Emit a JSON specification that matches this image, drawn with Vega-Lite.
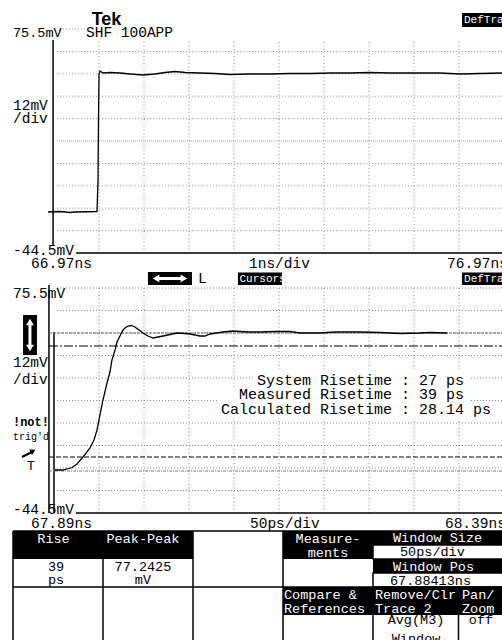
{
"$schema":"https://vega.github.io/schema/vega-lite/v6.json",
"width":502,"height":640,"padding":0,"autosize":{"type":"none"},
"background":"white",
"config":{"view":{"stroke":null},"text":{"font":"Liberation Mono","baseline":"middle"}},
"resolve":{"scale":{"x":"independent","y":"independent"}},
"layer":[
{
"encoding":{
 "x":{"field":"t","type":"quantitative","scale":{"domain":[65.77,76.9256],"nice":false,"zero":false},"axis":null},
 "y":{"field":"v","type":"quantitative","scale":{"domain":[-251.82,91.036],"nice":false,"zero":false},"axis":null}
},
"layer":[
 {"data":{"values":[{"t":67.04,"t2":76.93,"v":63.5},{"t":67.04,"t2":76.93,"v":51.5},{"t":67.04,"t2":76.93,"v":39.5},{"t":67.04,"t2":76.93,"v":27.5},{"t":67.04,"t2":76.93,"v":3.5},{"t":67.04,"t2":76.93,"v":-8.5},{"t":67.04,"t2":76.93,"v":-20.5},{"t":67.04,"t2":76.93,"v":-32.5},{"t":67.1,"t2":67.66,"v":75.5}]},
  "mark":{"type":"rule","stroke":"#8c8c8c","strokeDash":[1,2],"strokeWidth":1},
  "encoding":{"x2":{"field":"t2"}}},
 {"data":{"values":[{"t":67.04,"t2":76.93,"v":15.5}]},
  "mark":{"type":"rule","stroke":"#9a9a9a","strokeDash":[1,1],"strokeWidth":1},
  "encoding":{"x2":{"field":"t2"}}},
 {"data":{"values":[{"t":67.97,"v":68.54,"v2":-44.5},{"t":68.97,"v":68.54,"v2":-44.5},{"t":69.97,"v":68.54,"v2":-44.5},{"t":70.97,"v":68.54,"v2":-44.5},{"t":71.97,"v":68.54,"v2":-44.5},{"t":72.97,"v":68.54,"v2":-44.5},{"t":73.97,"v":68.54,"v2":-44.5},{"t":74.97,"v":68.54,"v2":-44.5},{"t":75.97,"v":68.54,"v2":-44.5}]},
  "mark":{"type":"rule","stroke":"#8c8c8c","strokeDash":[1,2.5],"strokeWidth":1},
  "encoding":{"y2":{"field":"v2"}}},
 {"data":{"values":[{"t":66.95,"v":69.6,"v2":-40.2}]},
  "mark":{"type":"rule","stroke":"black","strokeWidth":1.5},
  "encoding":{"y2":{"field":"v2"}}},
 {"data":{"values":[{"t":67.46,"t2":76.93,"v":-44.5}]},
  "mark":{"type":"rule","stroke":"black","strokeWidth":1.5},
  "encoding":{"x2":{"field":"t2"}}},
 {"data":{"values":[{"t":66.837,"v":-22.54},{"t":67.103,"v":-22.27},{"t":67.326,"v":-22.8},{"t":67.437,"v":-22.54},{"t":67.926,"v":-22.27},{"t":67.948,"v":-5.39},{"t":67.959,"v":26.75},{"t":67.97,"v":51.39},{"t":67.992,"v":53.0},{"t":68.059,"v":51.93},{"t":68.214,"v":52.2},{"t":68.437,"v":51.93},{"t":68.659,"v":51.39},{"t":68.948,"v":50.86},{"t":69.214,"v":51.39},{"t":69.437,"v":52.2},{"t":69.659,"v":52.73},{"t":69.881,"v":52.2},{"t":70.214,"v":51.93},{"t":70.548,"v":51.66},{"t":70.881,"v":51.13},{"t":71.326,"v":51.39},{"t":71.77,"v":51.39},{"t":72.214,"v":51.66},{"t":72.659,"v":51.66},{"t":73.103,"v":51.93},{"t":73.548,"v":51.93},{"t":73.992,"v":52.2},{"t":74.437,"v":51.93},{"t":74.881,"v":51.93},{"t":75.548,"v":51.93},{"t":75.992,"v":51.39},{"t":76.437,"v":51.66},{"t":76.926,"v":51.93}]},
  "mark":{"type":"line","color":"black","strokeWidth":1.3}},
 {"data":{"values":[{"t":76.037,"t2":77.0,"v":84.07,"v2":76.57}]},
  "mark":{"type":"rect","color":"black"},
  "encoding":{"x2":{"field":"t2"},"y2":{"field":"v2"}}},
 {"data":{"values":[{"t":76.081,"v":80.32,"label":"DefTra"}]},
  "mark":{"type":"text","align":"left","fontSize":11,"color":"white"},
  "encoding":{"text":{"field":"label"}}},
 {"data":{"values":[{"t":68.137,"v":80.32,"label":"Tek"}]},
  "mark":{"type":"text","align":"center","font":"Liberation Sans","fontWeight":"bold","fontSize":18,"color":"black"},
  "encoding":{"text":{"field":"label"}}},
 {"data":{"values":[{"t":66.059,"v":73.36,"label":"75.5mV"}]},
  "mark":{"type":"text","align":"left","fontSize":13.5,"color":"black"},
  "encoding":{"text":{"field":"label"}}},
 {"data":{"values":[{"t":67.681,"v":73.36,"label":"SHF 100APP"},{"t":66.059,"v":34.25,"label":"12mV"},{"t":66.059,"v":27.29,"label":"/div"},{"t":66.059,"v":-43.43,"label":"-44.5mV"},{"t":66.459,"v":-50.39,"label":"66.97ns"},{"t":71.303,"v":-50.39,"label":"1ns/div"},{"t":75.703,"v":-50.39,"label":"76.97ns"}]},
  "mark":{"type":"text","align":"left","fontSize":14.5,"color":"black"},
  "encoding":{"text":{"field":"label"}}}
]
},
{
"encoding":{
 "x":{"field":"t","type":"quantitative","scale":{"domain":[67830,68387.78],"nice":false,"zero":false},"axis":null},
 "y":{"field":"v","type":"quantitative","scale":{"domain":[-112.23,229.1],"nice":false,"zero":false},"axis":null}
},
"layer":[
 {"data":{"values":[{"t":67893.3,"t2":68390,"v":75.5},{"t":67893.3,"t2":68390,"v":63.5},{"t":67893.3,"t2":68390,"v":51.5},{"t":67893.3,"t2":68390,"v":39.5},{"t":67893.3,"t2":68390,"v":27.5},{"t":67893.3,"t2":68390,"v":15.5},{"t":67893.3,"t2":68390,"v":3.5},{"t":67893.3,"t2":68390,"v":-8.5},{"t":67893.3,"t2":68390,"v":-20.5},{"t":67893.3,"t2":68390,"v":-32.5}]},
  "mark":{"type":"rule","stroke":"#8c8c8c","strokeDash":[1,2],"strokeWidth":1},
  "encoding":{"x2":{"field":"t2"}}},
 {"data":{"values":[{"t":67940,"v":75.5,"v2":-44.5},{"t":67990,"v":75.5,"v2":-44.5},{"t":68040,"v":75.5,"v2":-44.5},{"t":68090,"v":75.5,"v2":-44.5},{"t":68140,"v":75.5,"v2":-44.5},{"t":68190,"v":75.5,"v2":-44.5},{"t":68240,"v":75.5,"v2":-44.5},{"t":68290,"v":75.5,"v2":-44.5},{"t":68340,"v":75.5,"v2":-44.5}]},
  "mark":{"type":"rule","stroke":"#8c8c8c","strokeDash":[1,2.5],"strokeWidth":1},
  "encoding":{"y2":{"field":"v2"}}},
 {"data":{"values":[{"t":68113.3,"t2":68352.2,"v":32.3,"v2":22.7},{"t":68072.2,"t2":68352.2,"v":22.7,"v2":14.17},{"t":68072.2,"t2":68378.9,"v":14.17,"v2":6.17}]},
  "mark":{"type":"rect","color":"white"},
  "encoding":{"x2":{"field":"t2"},"y2":{"field":"v2"}}},
 {"data":{"values":[{"t":67884.4,"v":77.1,"v2":-44.5},{"t":67890,"v":52,"v2":-44.5}]},
  "mark":{"type":"rule","stroke":"black","strokeWidth":1.5},
  "encoding":{"y2":{"field":"v2"}}},
 {"data":{"values":[{"t":67914.4,"t2":68390,"v":-44.5}]},
  "mark":{"type":"rule","stroke":"black","strokeWidth":1.5},
  "encoding":{"x2":{"field":"t2"}}},
 {"data":{"values":[{"t":67884.4,"t2":68390,"v":51.5}]},
  "mark":{"type":"rule","stroke":"#666666","strokeDash":[3,1],"strokeWidth":1},
  "encoding":{"x2":{"field":"t2"}}},
 {"data":{"values":[{"t":67884.4,"t2":68390,"v":44.57}]},
  "mark":{"type":"rule","stroke":"black","strokeDash":[9,2,2,2],"strokeWidth":1.2},
  "encoding":{"x2":{"field":"t2"}}},
 {"data":{"values":[{"t":67884.4,"t2":68390,"v":-14.63}]},
  "mark":{"type":"rule","stroke":"black","strokeDash":[5,2],"strokeWidth":1.2},
  "encoding":{"x2":{"field":"t2"}}},
 {"data":{"values":[{"t":67884.4,"t2":68390,"v":-22.1}]},
  "mark":{"type":"rule","stroke":"#777777","strokeDash":[3,1,1,1],"strokeWidth":1},
  "encoding":{"x2":{"field":"t2"}}},
 {"data":{"values":[{"t":67891.1,"v":-21.57},{"t":67900,"v":-21.57},{"t":67904.4,"v":-21.03},{"t":67910,"v":-20.23},{"t":67915.6,"v":-18.37},{"t":67922.2,"v":-14.63},{"t":67930,"v":-9.83},{"t":67934.4,"v":-5.57},{"t":67937.8,"v":-0.23},{"t":67941.1,"v":7.77},{"t":67944.4,"v":15.77},{"t":67948.9,"v":24.83},{"t":67952.2,"v":30.7},{"t":67954.4,"v":37.1},{"t":67957.8,"v":42.43},{"t":67960,"v":46.7},{"t":67963.3,"v":49.9},{"t":67966.7,"v":53.1},{"t":67968.9,"v":54.17},{"t":67972.2,"v":55.23},{"t":67975.6,"v":55.5},{"t":67980,"v":54.7},{"t":67984.4,"v":53.1},{"t":67988.9,"v":51.5},{"t":67994.4,"v":49.9},{"t":68000,"v":48.83},{"t":68005.6,"v":49.37},{"t":68011.1,"v":49.9},{"t":68018.9,"v":50.7},{"t":68026.7,"v":51.5},{"t":68035.6,"v":51.23},{"t":68041.1,"v":50.97},{"t":68052.2,"v":49.9},{"t":68057.8,"v":49.9},{"t":68063.3,"v":50.97},{"t":68077.8,"v":52.03},{"t":68088.9,"v":52.57},{"t":68105.6,"v":52.03},{"t":68118.9,"v":52.03},{"t":68135.6,"v":52.3},{"t":68152.2,"v":52.3},{"t":68163.3,"v":51.5},{"t":68185.6,"v":51.5},{"t":68202.2,"v":52.03},{"t":68213.3,"v":52.03},{"t":68230,"v":52.03},{"t":68252.2,"v":51.77},{"t":68274.4,"v":51.23},{"t":68296.7,"v":51.5},{"t":68307.8,"v":51.77},{"t":68326.7,"v":51.5}]},
  "mark":{"type":"line","color":"black","strokeWidth":1.3}},
 {"data":{"values":[{"t":67994.4,"t2":68043.3,"v":84.03,"v2":77.1},{"t":68094.4,"t2":68143.3,"v":83.77,"v2":77.1},{"t":68343.3,"t2":68400,"v":83.77,"v2":77.1},{"t":67855.6,"t2":67871.1,"v":61.1,"v2":39.77}]},
  "mark":{"type":"rect","color":"black"},
  "encoding":{"x2":{"field":"t2"},"y2":{"field":"v2"}}},
 {"data":{"values":[{"t":68005.6,"t2":68032.2,"v":80.57}]},
  "mark":{"type":"rule","stroke":"white","strokeWidth":3},
  "encoding":{"x2":{"field":"t2"}}},
 {"data":{"values":[{"t":67863.3,"v":56.3,"v2":44.57}]},
  "mark":{"type":"rule","stroke":"white","strokeWidth":3},
  "encoding":{"y2":{"field":"v2"}}},
 {"data":{"values":[{"t":68003.3,"v":80.57}]},
  "mark":{"type":"point","shape":"triangle-left","filled":true,"color":"white","size":60,"opacity":1}},
 {"data":{"values":[{"t":68034.4,"v":80.57}]},
  "mark":{"type":"point","shape":"triangle-right","filled":true,"color":"white","size":60,"opacity":1}},
 {"data":{"values":[{"t":67863.3,"v":57.37}]},
  "mark":{"type":"point","shape":"triangle-up","filled":true,"color":"white","size":60,"opacity":1}},
 {"data":{"values":[{"t":67863.3,"v":43.5}]},
  "mark":{"type":"point","shape":"triangle-down","filled":true,"color":"white","size":60,"opacity":1}},
 {"data":{"values":[{"t":67854.4,"t2":67865.6,"v":-14.63,"v2":-11.97}]},
  "mark":{"type":"rule","stroke":"black","strokeWidth":2},
  "encoding":{"x2":{"field":"t2"},"y2":{"field":"v2"}}},
 {"data":{"values":[{"t":67866.7,"v":-11.43}]},
  "mark":{"type":"point","shape":"triangle-right","filled":true,"color":"black","size":40,"angle":-27,"opacity":1}},
 {"data":{"values":[{"t":68096.1,"v":80.3,"label":"Cursors"},{"t":68345.6,"v":80.3,"label":"DefTra"}]},
  "mark":{"type":"text","align":"left","fontSize":11,"color":"white"},
  "encoding":{"text":{"field":"label"}}},
 {"data":{"values":[{"t":67844.4,"v":72.3,"label":"75.5mV"},{"t":67844.4,"v":35.5,"label":"12mV"},{"t":67844.4,"v":26.43,"label":"/div"},{"t":67844.4,"v":-42.9,"label":"-44.5mV"},{"t":67864.4,"v":-50.1,"label":"67.89ns"},{"t":68107.8,"v":-50.1,"label":"50ps/div"},{"t":68324.4,"v":-50.1,"label":"68.39ns"}]},
  "mark":{"type":"text","align":"left","fontSize":14.5,"color":"black"},
  "encoding":{"text":{"field":"label"}}},
 {"data":{"values":[{"t":68115.6,"v":26.43,"label":"System Risetime : 27 ps"},{"t":68095.6,"v":19.23,"label":"Measured Risetime : 39 ps"},{"t":68075.6,"v":10.97,"label":"Calculated Risetime : 28.14 ps"},{"t":68050,"v":80.83,"label":"L"}]},
  "mark":{"type":"text","align":"left","fontSize":15,"color":"black"},
  "encoding":{"text":{"field":"label"}}},
 {"data":{"values":[{"t":67844.4,"v":3.77,"label":"!not!"}]},
  "mark":{"type":"text","align":"left","fontSize":12,"fontWeight":"bold","color":"black"},
  "encoding":{"text":{"field":"label"}}},
 {"data":{"values":[{"t":67844.4,"v":-4.23,"label":"trig'd"}]},
  "mark":{"type":"text","align":"left","fontSize":10,"color":"black"},
  "encoding":{"text":{"field":"label"}}},
 {"data":{"values":[{"t":67860,"v":-19.17,"label":"T"}]},
  "mark":{"type":"text","align":"left","fontSize":13,"color":"black"},
  "encoding":{"text":{"field":"label"}}}
]
},
{
"encoding":{
 "x":{"field":"c","type":"quantitative","scale":{"domain":[-0.14444,5.43333],"nice":false,"zero":false},"axis":null},
 "y":{"field":"r","type":"quantitative","scale":{"domain":[-18.964,3.8929],"nice":false,"zero":false,"reverse":true},"axis":null}
},
"layer":[
 {"data":{"values":[{"c":0,"c2":2,"r":0,"r2":1},{"c":3,"c2":4,"r":0,"r2":1},{"c":4,"c2":5.6,"r":0,"r2":0.5},{"c":4,"c2":5.6,"r":1,"r2":1.5},{"c":3,"c2":5.6,"r":2,"r2":3}]},
  "mark":{"type":"rect","color":"black"},
  "encoding":{"x2":{"field":"c2"},"y2":{"field":"r2"}}},
 {"data":{"values":[{"c":4,"c2":5.6,"r":0.5,"r2":1},{"c":4,"c2":5.6,"r":1.5,"r2":2}]},
  "mark":{"type":"rect","fill":"white","stroke":"black","strokeWidth":1.5},
  "encoding":{"x2":{"field":"c2"},"y2":{"field":"r2"}}},
 {"data":{"values":[{"c":0,"c2":5.6,"r":0},{"c":0,"c2":5.6,"r":2}]},
  "mark":{"type":"rule","stroke":"black","strokeWidth":1.5},
  "encoding":{"x2":{"field":"c2"}}},
 {"data":{"values":[{"c":0,"r":0,"r2":4},{"c":1,"r":1,"r2":4},{"c":2,"r":0,"r2":4},{"c":3,"r":0,"r2":4},{"c":4,"r":3,"r2":4},{"c":4.95,"r":3,"r2":4}]},
  "mark":{"type":"rule","stroke":"black","strokeWidth":1.5},
  "encoding":{"y2":{"field":"r2"}}},
 {"data":{"values":[{"c":0.45,"r":0.27,"label":"Rise"},{"c":1.444,"r":0.27,"label":"Peak-Peak"},{"c":3.5,"r":0.27,"label":"Measure-"},{"c":3.5,"r":0.77,"label":"ments"}]},
  "mark":{"type":"text","align":"center","fontSize":13.5,"color":"white"},
  "encoding":{"text":{"field":"label"}}},
 {"data":{"values":[{"c":4.222,"r":0.25,"label":"Window Size"},{"c":4.222,"r":1.27,"label":"Window Pos"},{"c":3.011,"r":2.3,"label":"Compare &"},{"c":3.011,"r":2.8,"label":"References"},{"c":4.022,"r":2.3,"label":"Remove/Clr"},{"c":4.022,"r":2.8,"label":"Trace 2"},{"c":4.989,"r":2.3,"label":"Pan/"},{"c":4.989,"r":2.8,"label":"Zoom"}]},
  "mark":{"type":"text","align":"left","fontSize":13.5,"color":"white"},
  "encoding":{"text":{"field":"label"}}},
 {"data":{"values":[{"c":0.478,"r":1.286,"label":"39"},{"c":0.478,"r":1.75,"label":"ps"},{"c":1.444,"r":1.286,"label":"77.2425"},{"c":1.444,"r":1.75,"label":"mV"},{"c":4.478,"r":3.18,"label":"Avg(M3)"},{"c":4.478,"r":3.857,"label":"Window"},{"c":5.2,"r":3.18,"label":"off"}]},
  "mark":{"type":"text","align":"center","fontSize":13.5,"color":"black"},
  "encoding":{"text":{"field":"label"}}},
 {"data":{"values":[{"c":4.3,"r":0.74,"label":"50ps/div"},{"c":4.189,"r":1.77,"label":"67.88413ns"}]},
  "mark":{"type":"text","align":"left","fontSize":13.5,"color":"black"},
  "encoding":{"text":{"field":"label"}}}
]
}
]
}
